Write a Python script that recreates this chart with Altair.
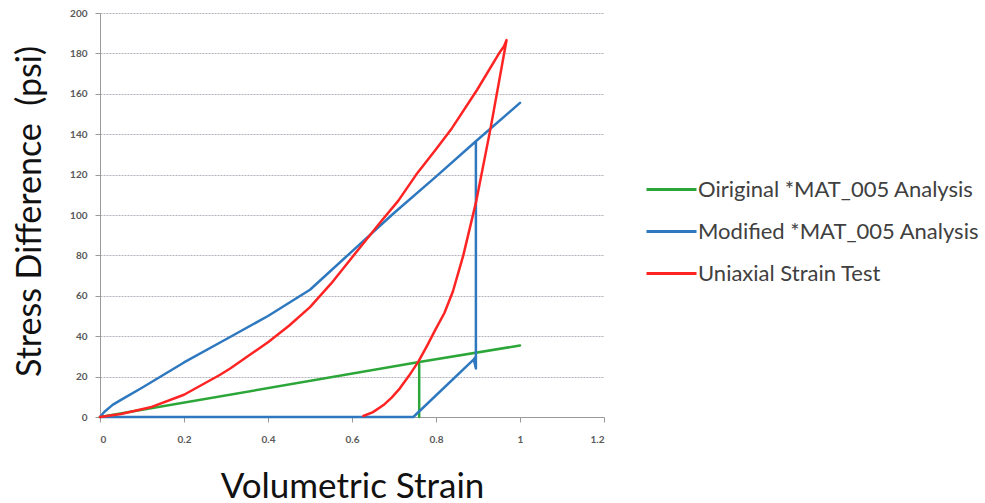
import altair as alt
import pandas as pd

series_names = ["Oiriginal *MAT_005 Analysis", "Modified *MAT_005 Analysis", "Uniaxial Strain Test"]
series_colors = ["#2ca638", "#2e78bf", "#ff2424"]

x_ticks = [0, 0.2, 0.4, 0.6, 0.8, 1.0, 1.2]
y_ticks = [0, 20, 40, 60, 80, 100, 120, 140, 160, 180, 200]

green_x = [0.0, 0.760, 0.760, 0.760, 1.0]
green_y = [0.0, 27.2, 0.0, 27.2, 35.4]

blue_x = [0.0, 0.01, 0.03, 0.05, 0.1, 0.2, 0.3, 0.4, 0.5, 0.6, 0.7, 0.8, 0.895,
          0.895, 0.89, 0.746, 0.0, 0.746, 0.89, 0.895, 0.895, 1.0]
blue_y = [0.0, 2.5, 6.0, 8.5, 14.5, 27.0, 38.5, 50.0, 63.0, 82.0, 101.0, 119.0, 136.5,
          24.0, 28.5, 0.0, 0.0, 0.0, 28.5, 30.0, 136.5, 155.5]

red_x = [0.0, 0.05, 0.12, 0.2, 0.285, 0.31, 0.4, 0.45, 0.5, 0.55, 0.6, 0.67, 0.71, 0.753,
         0.8, 0.838, 0.898, 0.953, 0.962, 0.968,
         0.93, 0.896, 0.865, 0.84, 0.82, 0.798, 0.778, 0.758, 0.736, 0.714, 0.695,
         0.675, 0.65, 0.627]
red_y = [0.0, 1.5, 4.8, 11.0, 20.8, 24.0, 37.0, 45.2, 54.4, 66.0, 79.0, 97.0, 107.0, 120.0,
         132.5, 143.0, 162.0, 181.0, 183.5, 186.6,
         143.0, 107.0, 80.0, 62.0, 51.5, 43.0, 35.0, 27.4, 20.5, 14.2, 9.7,
         5.9, 2.4, 0.5]

rows = []
for name, xs, ys in [(series_names[0], green_x, green_y),
                     (series_names[1], blue_x, blue_y),
                     (series_names[2], red_x, red_y)]:
    for i, (xv, yv) in enumerate(zip(xs, ys)):
        rows.append({"series": name, "x": xv, "y": yv, "idx": i})
df = pd.DataFrame(rows)

FONT = "Lato"

chart = alt.Chart(df).mark_line(strokeWidth=2.5, strokeJoin="round", strokeCap="round").encode(
    x=alt.X("x:Q",
            scale=alt.Scale(domain=[0, 1.2], nice=False, zero=False),
            axis=alt.Axis(values=x_ticks, format="~g", title="Volumetric Strain",
                          grid=False, domainColor="#9a9a9a", tickColor="#9a9a9a",
                          tickSize=5, labelPadding=12, labelFont=FONT, labelFontSize=10,
                          labelColor="#595959", labelFontWeight="bold",
                          titleFont=FONT, titleFontSize=35, titleFontWeight="normal",
                          titleColor="#111111", titleBaseline="alphabetic", titleY=80)),
    y=alt.Y("y:Q",
            scale=alt.Scale(domain=[0, 200], nice=False),
            axis=alt.Axis(values=y_ticks, title="Stress Difference\u00a0\u00a0(psi)",
                          grid=True, gridColor="#b4b2bc", gridDash=[2, 1], gridWidth=1.2,
                          domainColor="#9a9a9a", tickColor="#9a9a9a", tickSize=5,
                          labelPadding=8, labelFont=FONT, labelFontSize=10,
                          labelColor="#595959", labelFontWeight="bold",
                          titleFont=FONT, titleFontSize=34, titleFontWeight="normal",
                          titleColor="#111111", titleX=-70, titleY=198,
                          titleAngle=-90, titleBaseline="middle", titleAlign="center")),
    color=alt.Color("series:N",
                    scale=alt.Scale(domain=series_names, range=series_colors),
                    legend=alt.Legend(title=None, orient="none", legendX=545, legendY=150,
                                      symbolType="stroke", symbolSize=2500,
                                      symbolStrokeWidth=3, labelFont=FONT,
                                      labelFontSize=22, labelColor="#404040",
                                      labelOffset=0, rowPadding=4, labelLimit=500)),
    order="idx:Q",
).properties(
    width=504, height=404,
    padding={"left": 100, "top": 13, "right": 381, "bottom": 86},
    autosize=alt.AutoSizeParams(type="none"),
).configure_view(stroke=None)

chart.save("out.html", embed_options={"renderer": "svg", "actions": False})
